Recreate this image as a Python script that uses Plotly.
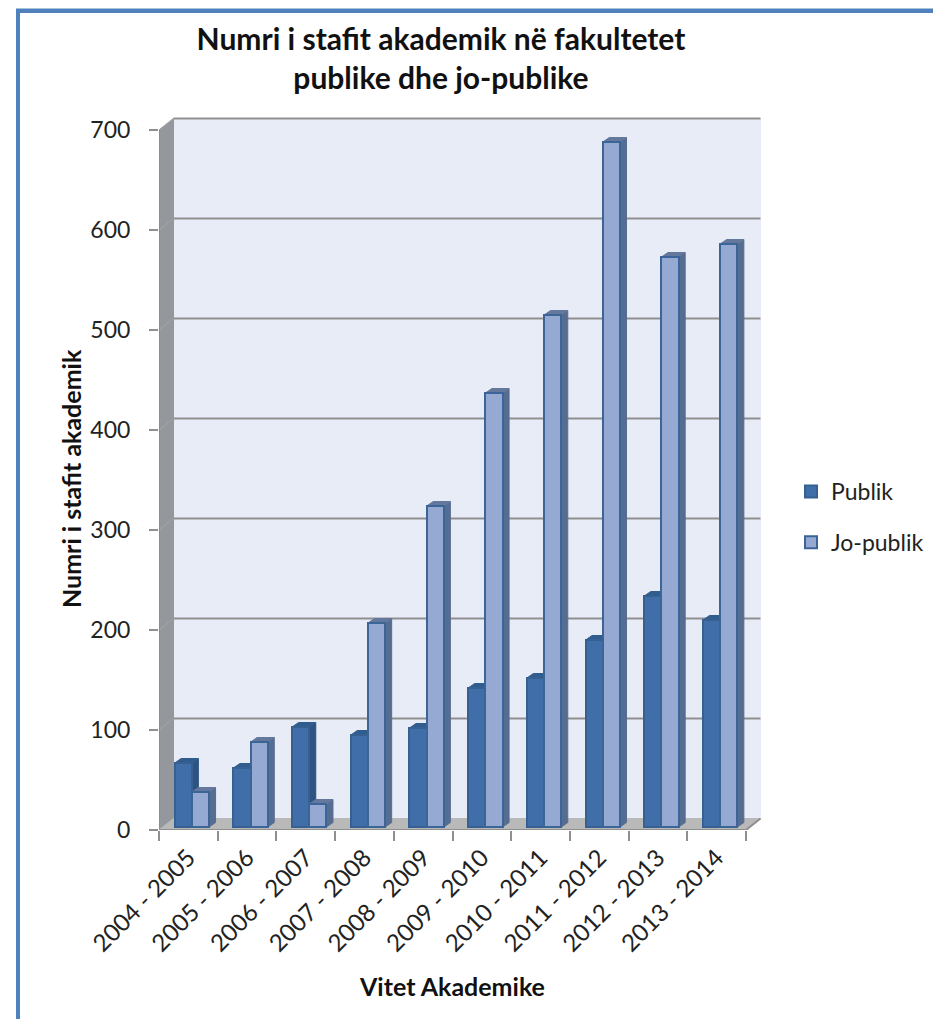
import plotly.graph_objects as go

# ---------- data ----------
years = ["2004 - 2005", "2005 - 2006", "2006 - 2007", "2007 - 2008", "2008 - 2009",
         "2009 - 2010", "2010 - 2011", "2011 - 2012", "2012 - 2013", "2013 - 2014"]
publik = [64, 59, 100, 92, 99, 139, 149, 187, 231, 207]
jo_publik = [35, 85, 23, 204, 321, 434, 512, 685, 570, 583]
y_ticks = [0, 100, 200, 300, 400, 500, 600, 700]

# ---------- figure geometry ----------
W, H = 933, 1019
L, R, T, B = 159, 770, 115, 830      # axes area, in pixels
CAT_PX = 58.7                        # width of one category
x_max = (R - L) / CAT_PX
y_max = B - T
FONT = "Lato"

WALL_DX, WALL_DY = 14.5 / CAT_PX, 11.5
BAR_DX, BAR_DY = 6.5 / CAT_PX, 4.5
FLOOR = 3
BAR_W = 17.2 / CAT_PX
GROUP_OFF = 0.56
n = len(years)

C_PUB, C_PUB_EDGE, C_PUB_SIDE, C_PUB_TOP = "#3f6ea8", "#35608f", "#2d5382", "#315c8f"
C_JO, C_JO_EDGE, C_JO_SIDE, C_JO_TOP = "#95a9d3", "#3a6596", "#566c90", "#64789e"
C_GRID, C_WALL, C_LEFT, C_FLOOR = "#8f8f8f", "#e8ecf6", "#94979b", "#b9b9b9"
C_FRAME = "#4f81bd"


def poly(points, fill, line=None, layer="between", width=1):
    path = "M " + " L ".join(f"{x},{y}" for x, y in points) + " Z"
    return dict(type="path", path=path, xref="x", yref="y", fillcolor=fill,
                line=dict(color=line or fill, width=width), layer=layer)


def seg(x0, y0, x1, y1, color=C_GRID, width=2, layer="below"):
    return dict(type="line", x0=x0, y0=y0, x1=x1, y1=y1, xref="x", yref="y",
                line=dict(color=color, width=width), layer=layer)


def px_x(p):
    return (p - L) / (W - L)


def px_y(p):
    return (B - p) / (B - T)


shapes = []
# walls and floor
shapes.append(poly([(WALL_DX, WALL_DY), (10 + WALL_DX, WALL_DY), (10 + WALL_DX, 700 + WALL_DY),
                    (WALL_DX, 700 + WALL_DY)], C_WALL, layer="below"))
shapes.append(poly([(0, 0), (WALL_DX, WALL_DY), (WALL_DX, 700 + WALL_DY), (0, 700)], C_LEFT, layer="below"))
shapes.append(poly([(0, 0), (10, 0), (10 + WALL_DX, WALL_DY), (WALL_DX, WALL_DY)], C_FLOOR, layer="below"))
# gridlines on the wall
for t in y_ticks[1:]:
    shapes.append(seg(WALL_DX, t + WALL_DY, 10 + WALL_DX, t + WALL_DY))
    shapes.append(seg(0, t, WALL_DX, t + WALL_DY, color="#a3a5a8", width=1))
# axis lines
shapes.append(seg(0, 0, 10, 0))
shapes.append(seg(10, 0, 10 + WALL_DX, WALL_DY))
shapes.append(seg(0, 0, 0, 700, color="#8a8c8f"))

# side and top faces of the bars, derived from the values
centers_pub, centers_jo = [], []
for i in range(n):
    cp = i + GROUP_OFF - BAR_W / 2
    cj = i + GROUP_OFF + BAR_W / 2
    centers_pub.append(cp)
    centers_jo.append(cj)
    for c, v, side, top, edge in ((cp, publik[i], C_PUB_SIDE, C_PUB_TOP, C_PUB_EDGE),
                                  (cj, jo_publik[i], C_JO_SIDE, C_JO_TOP, C_JO_EDGE)):
        xl, xr = c - BAR_W / 2, c + BAR_W / 2
        yb, yt = FLOOR, FLOOR + v
        shapes.append(poly([(xr, yb), (xr + BAR_DX, yb + BAR_DY), (xr + BAR_DX, yt + BAR_DY), (xr, yt)], side))
        shapes.append(poly([(xl, yt), (xr, yt), (xr + BAR_DX, yt + BAR_DY), (xl + BAR_DX, yt + BAR_DY)], top))

# page frame
shapes.append(dict(type="rect", xref="paper", yref="paper", x0=px_x(16), x1=px_x(20), y0=px_y(1019), y1=px_y(9),
                   fillcolor=C_FRAME, line=dict(width=0), layer="above"))
shapes.append(dict(type="rect", xref="paper", yref="paper", x0=px_x(16), x1=px_x(933), y0=px_y(13), y1=px_y(8.5),
                   fillcolor=C_FRAME, line=dict(width=0), layer="above"))

fig = go.Figure()
fig.add_trace(go.Bar(name="Publik", x=centers_pub, y=publik, base=FLOOR, width=BAR_W,
                     marker=dict(color=C_PUB, line=dict(color=C_PUB_EDGE, width=2)), legendgroup="a"))
fig.add_trace(go.Bar(name="Jo-publik", x=centers_jo, y=jo_publik, base=FLOOR, width=BAR_W,
                     marker=dict(color=C_JO, line=dict(color=C_JO_EDGE, width=2)), legendgroup="b"))

annotations = [
    dict(text="<b>Vitet Akademike</b>", xref="paper", yref="paper", x=px_x(452), y=px_y(986),
         showarrow=False, font=dict(family=FONT, size=25, color="#111"), xanchor="center", yanchor="middle"),
    dict(text="<b>Numri i stafit akademik</b>", xref="paper", yref="paper", x=px_x(71), y=px_y(479),
         showarrow=False, textangle=-90, font=dict(family=FONT, size=25, color="#111"),
         xanchor="center", yanchor="middle"),
]

fig.update_layout(
    width=W, height=H, autosize=False,
    margin=dict(l=L, r=0, t=T, b=H - B, pad=0, autoexpand=False),
    paper_bgcolor="white", plot_bgcolor="white",
    barmode="overlay", bargap=0,
    font=dict(family=FONT, size=22, color="#222"),
    title=dict(text="<b>Numri i stafit akademik në fakultetet<br>publike dhe jo-publike</b>",
               x=441 / W, xanchor="center", y=1 - 50 / H, yanchor="middle",
               font=dict(family=FONT, size=30, color="#111")),
    xaxis=dict(domain=[0, (R - L) / (W - L)], range=[0, x_max], tickmode="array",
               tickvals=[i + 0.5 for i in range(n)], ticktext=years,
               tickangle=-45, ticks="", showgrid=False, zeroline=False, showline=False,
               ticklabelstandoff=8, tickfont=dict(size=24, family=FONT, color="#222"),
               minor=dict(tickmode="array", tickvals=list(range(n + 1)), ticks="outside", ticklen=10,
                          tickwidth=2, tickcolor=C_GRID, showgrid=False)),
    yaxis=dict(range=[0, y_max], tickmode="array", tickvals=y_ticks, ticks="outside", ticklen=9, tickwidth=2,
               tickcolor=C_GRID, showgrid=False, zeroline=False, showline=False,
               ticklabelstandoff=14, tickfont=dict(size=23, family=FONT, color="#222")),
    legend=dict(x=px_x(791), xanchor="left", y=px_y(517), yanchor="middle", tracegroupgap=18,
                font=dict(family=FONT, size=23, color="#222"), bgcolor="rgba(0,0,0,0)"),
    shapes=shapes, annotations=annotations,
)

fig.write_html("out.html", config=dict(displayModeBar=False),
               post_script="document.body.style.margin='0';document.body.style.overflow='hidden';")
